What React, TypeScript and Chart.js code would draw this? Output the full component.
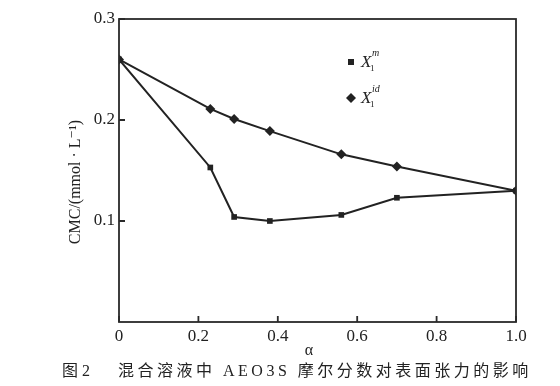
import React, { useEffect, useRef } from "react";
import { Chart, registerables } from "chart.js";

Chart.register(...registerables);

const alpha = [0, 0.23, 0.29, 0.38, 0.56, 0.7, 1.0];
const cmcMeasured = [0.26, 0.153, 0.104, 0.1, 0.106, 0.123, 0.13];
const cmcIdeal = [0.26, 0.211, 0.201, 0.189, 0.166, 0.154, 0.13];
const xTicks = [0, 0.2, 0.4, 0.6, 0.8, 1.0];
const yTicks = [0.1, 0.2, 0.3];
const yTitle = "CMC/(mmol · L⁻¹)";
const xTitle = "α";
const captionLabel = "图 2";
const captionText = "混合溶液中 AEO3S 摩尔分数对表面张力的影响";

const INK = "#222";
const SERIF = '"Liberation Serif", "DejaVu Serif", serif';

const extras = {
  id: "extras",
  afterDraw(chart: any) {
    const { ctx, chartArea: a, scales } = chart;
    const xs = scales.x;
    const ys = scales.y;
    ctx.save();
    ctx.strokeStyle = "#2a2a2a";
    ctx.lineWidth = 1.8;
    ctx.strokeRect(a.left, a.top, a.right - a.left, a.bottom - a.top);
    ctx.beginPath();
    xTicks.forEach((v) => {
      const px = xs.getPixelForValue(v);
      ctx.moveTo(px, a.bottom);
      ctx.lineTo(px, a.bottom - 6);
    });
    yTicks.forEach((v) => {
      const py = ys.getPixelForValue(v);
      ctx.moveTo(a.left, py);
      ctx.lineTo(a.left + 6, py);
    });
    ctx.stroke();

    // legend
    ctx.fillStyle = INK;
    ctx.fillRect(348, 59, 6, 6);
    ctx.beginPath();
    ctx.moveTo(351, 93);
    ctx.lineTo(356, 98);
    ctx.lineTo(351, 103);
    ctx.lineTo(346, 98);
    ctx.closePath();
    ctx.fill();
    ctx.textBaseline = "middle";
    ctx.textAlign = "left";
    ctx.font = "italic 17px " + SERIF;
    ctx.fillText("X", 361, 63);
    ctx.fillText("X", 361, 99);
    ctx.font = "italic 10px " + SERIF;
    ctx.fillText("m", 372, 53);
    ctx.fillText("id", 372, 89);
    ctx.font = "9px " + SERIF;
    ctx.fillText("1", 370, 69);
    ctx.fillText("1", 370, 105);

    // axis titles
    ctx.font = "16px " + SERIF;
    ctx.textAlign = "center";
    ctx.fillText(xTitle, 309, 351);
    ctx.translate(76, 182);
    ctx.rotate(-Math.PI / 2);
    ctx.fillText(yTitle, 0, 0);
    ctx.restore();
  },
};

export default function App() {
  const ref = useRef<HTMLCanvasElement | null>(null);
  useEffect(() => {
    document.body.style.margin = "0";
    const chart = new Chart(ref.current as HTMLCanvasElement, {
      type: "line",
      data: {
        datasets: [
          {
            label: "X1m",
            data: alpha.map((x, i) => ({ x, y: cmcMeasured[i] })),
            borderColor: INK,
            backgroundColor: INK,
            borderWidth: 2,
            pointStyle: "rect",
            pointRadius: 4,
            pointBorderWidth: 0,
          },
          {
            label: "X1id",
            data: alpha.map((x, i) => ({ x, y: cmcIdeal[i] })),
            borderColor: INK,
            backgroundColor: INK,
            borderWidth: 2,
            pointStyle: "rectRot",
            pointRadius: 5,
            pointBorderWidth: 0,
          },
        ],
      },
      options: {
        animation: false,
        responsive: false,
        devicePixelRatio: 1,
        layout: { padding: { left: 0, top: 19, right: 44, bottom: 0 } },
        plugins: { legend: { display: false }, tooltip: { enabled: false } },
        scales: {
          x: {
            type: "linear",
            min: 0,
            max: 1,
            afterFit: (s: any) => {
              s.height = 64;
            },
            afterBuildTicks: (s: any) => {
              s.ticks = xTicks.map((v) => ({ value: v }));
            },
            grid: { display: false, drawTicks: false },
            border: { display: false },
            ticks: {
              padding: 4,
              color: INK,
              font: { family: SERIF, size: 17 },
              callback: (v: any) => (Number(v) === 0 ? "0" : Number(v).toFixed(1)),
              maxRotation: 0,
            },
          },
          y: {
            type: "linear",
            min: 0,
            max: 0.3,
            afterFit: (s: any) => {
              s.width = 119;
            },
            afterBuildTicks: (s: any) => {
              s.ticks = yTicks.map((v) => ({ value: v }));
            },
            grid: { display: false, drawTicks: false },
            border: { display: false },
            ticks: {
              padding: 4,
              color: INK,
              font: { family: SERIF, size: 17 },
              callback: (v: any) => Number(v).toFixed(1),
            },
          },
        },
      },
      plugins: [extras],
    });
    return () => chart.destroy();
  }, []);
  const capStyle: React.CSSProperties = {
    position: "absolute",
    top: 361,
    fontFamily: '"Liberation Serif", "Noto Sans CJK SC", serif',
    fontSize: 16,
    color: INK,
    whiteSpace: "pre",
    lineHeight: "20px",
  };
  return (
    <div style={{ position: "relative", width: 560, height: 386, background: "#fff" }}>
      <canvas ref={ref} width={560} height={386} style={{ display: "block" }} />
      <div style={{ ...capStyle, left: 62 }}>{captionLabel}</div>
      <div style={{ ...capStyle, left: 118, letterSpacing: 3.5 }}>{captionText}</div>
    </div>
  );
}
